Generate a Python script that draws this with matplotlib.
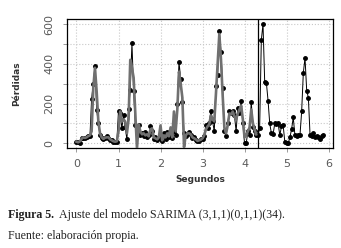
import numpy as np
import matplotlib
matplotlib.use("Agg")
import matplotlib.pyplot as plt

# observed losses, one value every 0.04 s
observed = [
    5, 8, 3, 25, 28, 25, 32, 38, 35, 225,
    300, 390, 170, 100, 40, 28, 20, 25, 35, 28,
    15, 18, 8, 5, 5, 165, 150, 75, 140, 80,
    20, 175, 270, 505, 265, 90, 60, 90, 40, 50,
    35, 55, 30, 40, 85, 60, 20, 30, 15, 25,
    20, 10, 50, 20, 55, 30, 40, 25, 60, 40,
    200, 410, 325, 210, 50, 35, 45, 55, 40, 25,
    30, 15, 10, 10, 20, 20, 35, 90, 75, 100,
    165, 110, 60, 290, 345, 565, 460, 280, 60, 35,
    100, 165, 150, 165, 140, 60, 180, 150, 215, 100,
    0, 0, 60, 40, 210, 80, 60, 40, 40, 75,
    520, 600, 310, 305, 215, 100, 50, 45, 100, 95,
    100, 40, 85, 90, 5, 0, 0, 30, 70, 130,
    40, 35, 40, 40, 160, 355, 430, 265, 230, 40,
    35, 50, 30, 35, 30, 20, 35, 40,
]

# SARIMA (3,1,1)(0,1,1)(34) fitted values
fitted = [
    8, 5, 10, 22, 30, 27, 30, 36, 40, 60,
    280, 380, 260, 110, 50, 30, 22, 28, 30, 30,
    20, 15, 10, 8, 10, 60, 160, 110, 120, 110,
    50, 120, 420, 380, 330, 150, -25, 95, 60, 45,
    50, 40, 45, 35, 70, 75, 30, 25, 20, 30,
    90, 15, 40, 30, 50, 35, 80, 30, 160, 60,
    170, 360, 300, 230, -20, 40, 50, 50, 45, 30,
    25, 20, 12, 15, 18, 25, 40, 70, 85, 95,
    140, 120, 110, 250, 400, 550, 420, 240, 80, 50,
    90, 150, 145, 160, 135, 120, 150, 170, 190, 120,
    30, 40, 60, 80, 170, 100, 70, 45,
]

dt = 0.04
t_obs = np.arange(len(observed)) * dt
t_fit = np.arange(len(fitted)) * dt
t_cut = 4.31

x_ticks = [0, 1, 2, 3, 4, 5, 6]
y_ticks = [0, 100, 200, 300, 400, 500, 600]
y_labels = ['0', '', '200', '', '400', '', '600']

fig = plt.figure(figsize=(3.41, 2.48), dpi=100)
ax = fig.add_axes([0.196, 0.403, 0.781, 0.520])

ax.grid(True, color='#c8c8c8', linestyle=':', linewidth=0.8)
ax.set_axisbelow(True)

ax.plot(t_obs, observed, color='black', linewidth=0.7, marker='o',
        markersize=2.5, zorder=2)
ax.plot(t_fit, fitted, color='#707070', linewidth=1.9, zorder=3)
ax.axvline(t_cut, color='black', linewidth=0.9, zorder=4)

ax.set_xlim(-0.23, 6.11)
ax.set_ylim(-24, 625)
ax.set_xticks(x_ticks)
ax.set_yticks(y_ticks)
ax.set_yticklabels(y_labels)
ax.tick_params(axis='both', direction='out', length=3, width=0.6,
               colors='#8a8a8a', labelcolor='#5a5a5a', labelsize=8)
ax.tick_params(axis='x', pad=5)
ax.tick_params(axis='y', pad=6)
plt.setp(ax.get_yticklabels(), rotation=90, va='center')
for s in ax.spines.values():
    s.set_linewidth(0.9)

ax.set_xlabel('Segundos', fontsize=6.5, fontweight='bold', color='#333333', labelpad=4)
ax.set_ylabel('Pérdidas', fontsize=6.5, fontweight='bold', color='#333333', labelpad=17)

fig.text(0.024, 0.135, 'Figura 5.', family='Liberation Serif', fontweight='bold',
         fontsize=8.6, color='#222222', va='center')
fig.text(0.172, 0.135, 'Ajuste del modelo SARIMA (3,1,1)(0,1,1)(34).',
         family='Liberation Serif', fontsize=8.6, color='#222222', va='center')
fig.text(0.024, 0.05, 'Fuente: elaboración propia.', family='Liberation Serif',
         fontsize=8.6, color='#222222', va='center')

fig.savefig('out.png', dpi=100)
